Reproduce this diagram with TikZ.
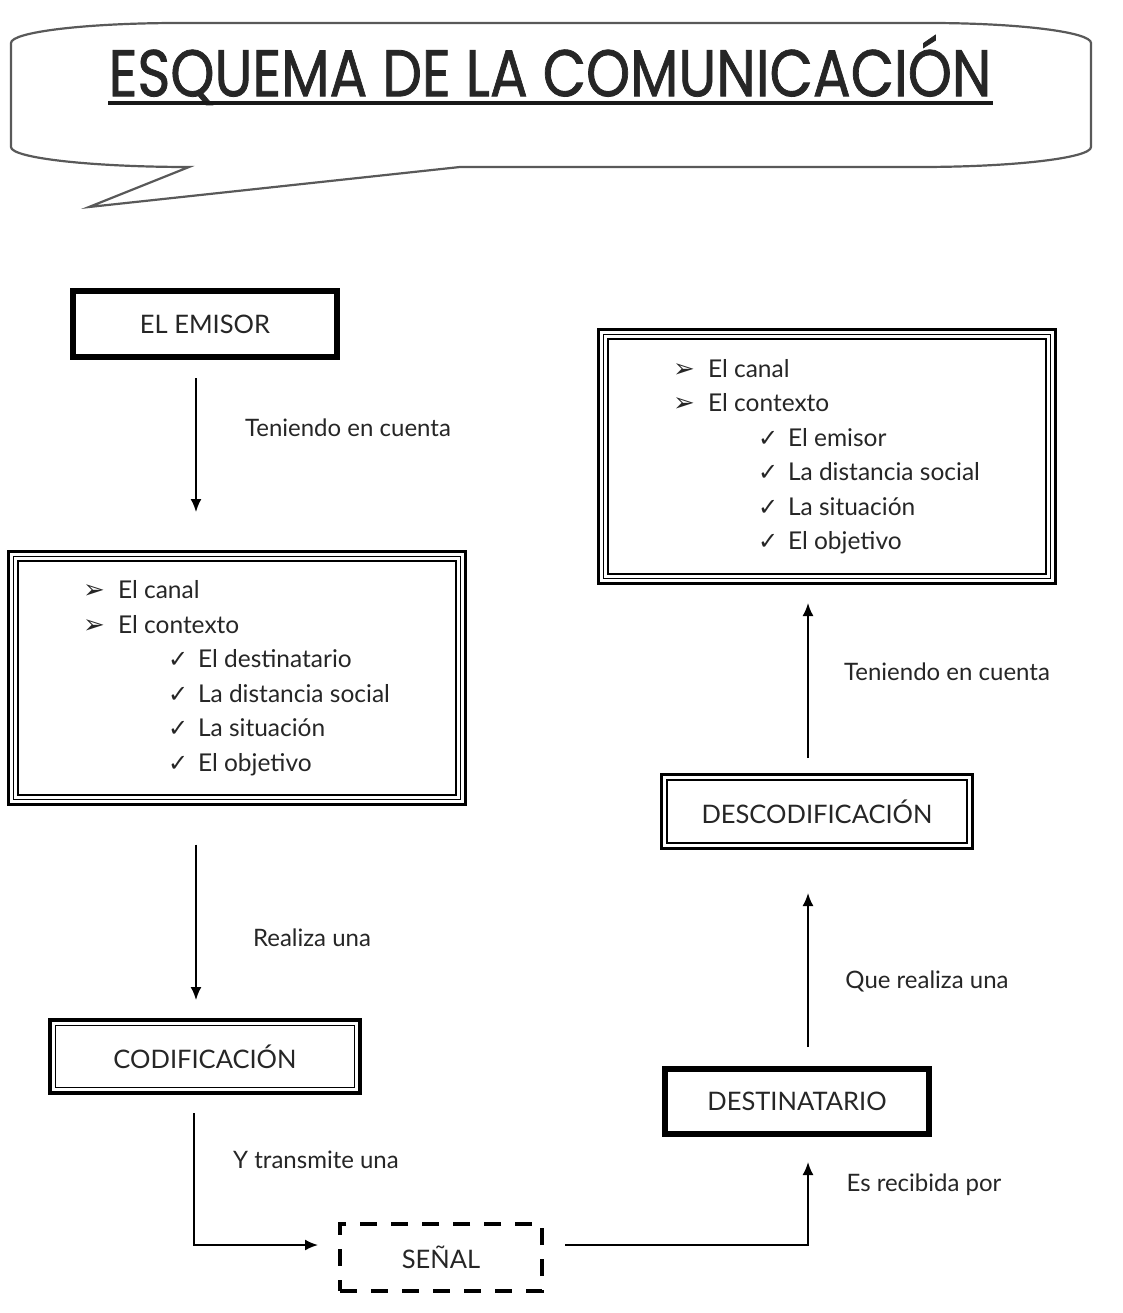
\documentclass[tikz,border=0pt]{standalone}
\usepackage{fontspec}
\setmainfont{Lato}
\newfontfamily\symfont{DejaVu Sans}
\newfontfamily\titlefont[FakeBold=1.2]{Poppins}
\usetikzlibrary{arrows.meta}
\newcommand{\chev}{\makebox[35pt][l]{\symfont\fontsize{26}{20}\selectfont ➢}}
\newcommand{\chk}{\hspace*{85pt}\makebox[30pt][l]{\symfont\fontsize{24}{20}\selectfont ✓}}
\begin{document}
\begin{tikzpicture}[x=1pt,y=-1pt,
  every node/.style={inner sep=0pt, outer sep=0pt, text=black!85},
  txt/.style={font=\fontsize{24}{28}\selectfont},
  captext/.style={font=\fontsize{25.5}{30}\selectfont},
  single/.style={draw, line width=6pt, captext},
  twoline/.style 2 args={draw, line width=#1, captext,
    path picture={\draw[line width=#2] ([shift={(5.5,5.5)}]path picture bounding box.north west) rectangle ([shift={(-5.5,-5.5)}]path picture bounding box.south east);}},
  triple/.style={draw, line width=3pt,
    path picture={
      \draw[line width=1.8pt] ([shift={(5,5)}]path picture bounding box.north west) rectangle ([shift={(-5,-5)}]path picture bounding box.south east);
      \draw[line width=1.3pt] ([shift={(9.5,9.5)}]path picture bounding box.north west) rectangle ([shift={(-9.5,-9.5)}]path picture bounding box.south east);}},
  dashbox/.style={draw, line width=4pt, dash pattern=on 17pt off 14pt, captext},
  arr/.style={draw, line width=1.8pt, -{Latex[length=13pt,width=11pt]}},
  bubble/.style={draw=black!65, line width=2.2pt}
]
\useasboundingbox[fill=white] (0,0) rectangle (1122,1313);

% speech bubble
\draw[bubble] (460,167) -- (920,167)
  .. controls (1014,167) and (1091,158) .. (1091,147)
  -- (1091,43)
  .. controls (1091,32) and (1018,23) .. (929,23)
  -- (179,23)
  .. controls (86,23) and (11,32) .. (11,43)
  -- (11,147)
  .. controls (11,158) and (91,167) .. (189,167)
  -- (89,207) -- cycle;
\node (title) at (550,70) {\titlefont\fontsize{66}{70}\selectfont\scalebox{0.85}[1]{ESQUEMA DE LA COMUNICACIÓN}};
\draw[line width=4pt, black!90] (108,103) -- (993,103);

% boxes
\node[single, minimum width=264pt, minimum height=66pt] (emisor) at (205,324) {EL EMISOR};
\node[triple, minimum width=457pt, minimum height=253pt] (L) at (237,678) {%
  \begin{minipage}{340pt}\fontsize{24.5}{34.5}\selectfont\raggedright\leftskip=16pt
  \chev El canal\par
  \chev El contexto\par
  \chk El destinatario\par
  \chk La distancia social\par
  \chk La situación\par
  \chk El objetivo
  \end{minipage}};
\node[twoline={4pt}{1.5pt}, minimum width=310pt, minimum height=73pt] (codif) at (205,1056.5) {CODIFICACIÓN};
\node[dashbox, minimum width=202pt, minimum height=67pt] (senal) at (441,1257.5) {SEÑAL};
\node[single, minimum width=264pt, minimum height=65pt] (dest) at (797,1101.5) {DESTINATARIO};
\node[twoline={3pt}{2.5pt}, minimum width=311pt, minimum height=74pt] (descod) at (817,811.5) {DESCODIFICACIÓN};
\node[triple, minimum width=457pt, minimum height=254pt] (R) at (827,456.5) {%
  \begin{minipage}{340pt}\fontsize{24.5}{34.5}\selectfont\raggedright\leftskip=16pt
  \chev El canal\par
  \chev El contexto\par
  \chk El emisor\par
  \chk La distancia social\par
  \chk La situación\par
  \chk El objetivo
  \end{minipage}};

% connectors
\draw[arr] ([shift={(-9,21)}]emisor.south) -- ([shift={(-41,-39.5)}]L.north);
\draw[arr] ([shift={(-41,40)}]L.south) -- ([shift={(-9,-20)}]codif.north);
\draw[arr] ([shift={(-11,20)}]codif.south) |- ([shift={(-22,-12.5)}]senal.west);
\draw[arr] ([shift={(23,-12.5)}]senal.east) -| ([shift={(11,28)}]dest.south);
\draw[arr] ([shift={(11,-22)}]dest.north) -- ([shift={(-9,44.5)}]descod.south);
\draw[arr] ([shift={(-9,-16.5)}]descod.north) -- ([shift={(-19,19.5)}]R.south);

% labels
\node[txt] (l1) at (348,428) {Teniendo en cuenta};
\node[txt] (l2) at (312,938) {Realiza una};
\node[txt] (l3) at (316,1160) {Y transmite una};
\node[txt] (l4) at (924,1185) {Es recibida por};
\node[txt] (l5) at (927,981) {Que realiza una};
\node[txt] (l6) at (947,672) {Teniendo en cuenta};
\end{tikzpicture}
\end{document}
